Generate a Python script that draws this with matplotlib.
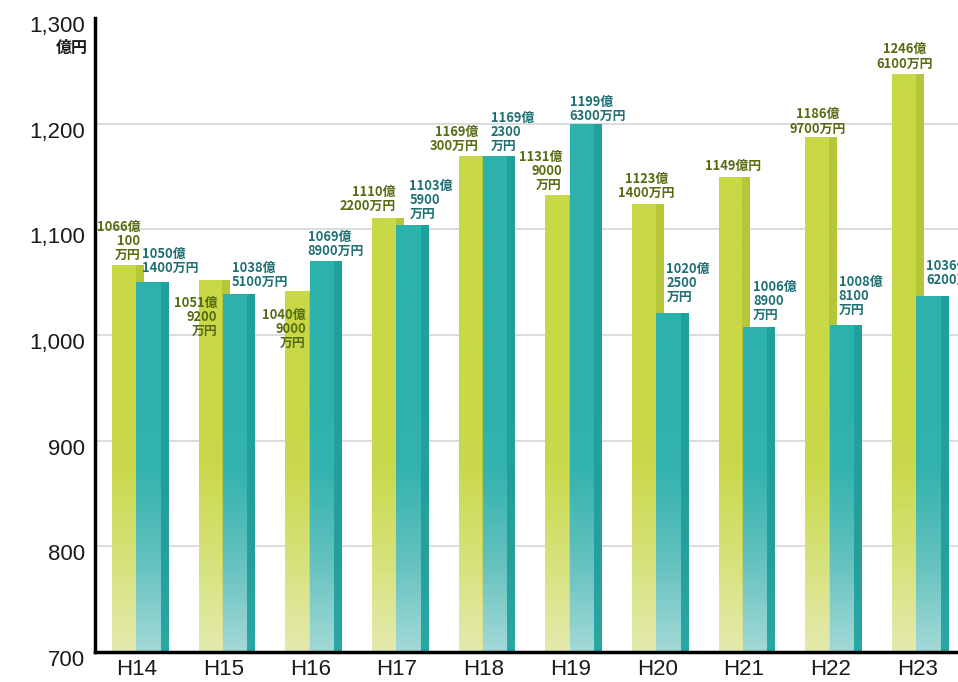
import numpy as np
import matplotlib
matplotlib.use("Agg")
from matplotlib import pyplot as plt
from matplotlib.colors import LinearSegmentedColormap
import matplotlib.transforms as mtransforms

# データ (億円)
years = ["H14", "H15", "H16", "H17", "H18", "H19", "H20", "H21", "H22", "H23"]
green_vals = [1066.01, 1051.92, 1040.90, 1110.22, 1169.03, 1131.90, 1123.14, 1149.00, 1186.97, 1246.61]
teal_vals = [1050.14, 1038.51, 1069.89, 1103.59, 1169.23, 1199.63, 1020.25, 1006.89, 1008.81, 1036.62]
green_labels = ["1066億\n100\n万円", "1051億\n9200\n万円", "1040億\n9000\n万円", "1110億\n2200万円",
                "1169億\n300万円", "1131億\n9000\n万円", "1123億\n1400万円", "1149億円",
                "1186億\n9700万円", "1246億\n6100万円"]
teal_labels = ["1050億\n1400万円", "1038億\n5100万円", "1069億\n8900万円", "1103億\n5900\n万円",
               "1169億\n2300\n万円", "1199億\n6300万円", "1020億\n2500\n万円", "1006億\n8900\n万円",
               "1008億\n8100\n万円", "1036億\n6200万円"]
yticks = [700, 800, 900, 1000, 1100, 1200, 1300]

# ラベルの置き方 (dx, dy ピクセル, ha, va)
green_pos = [(13, 3, "right", "bottom"), (3, -16, "right", "top"), (5, -16, "right", "top"),
             (8, 6, "right", "bottom"), (4, 3, "right", "bottom"), (1, 4, "right", "bottom"),
             (-1, 5, "center", "bottom"), (-1, 5, "center", "bottom"), (-3, 2, "center", "bottom"),
             (-3, 4, "center", "bottom")]
teal_pos = [(-10, 7), (-7, 5), (-18, 3), (-3, 5), (-8, 3), (-16, 1), (-6, 10), (-6, 6), (-7, 9), (-6, 9)]

green_face = LinearSegmentedColormap.from_list("gf", ["#e4eaae", "#d6e27a", "#cad94c", "#c8d846"])
green_side = LinearSegmentedColormap.from_list("gs", ["#dfe6a0", "#c9d35c", "#b9c83c", "#b6c639"])
teal_face = LinearSegmentedColormap.from_list("tf", ["#a3d9d7", "#62c1be", "#33b3ae", "#2cb1ac"])
teal_side = LinearSegmentedColormap.from_list("ts", ["#2aa8a6", "#259f9c", "#22a09d", "#20a09c"])

fig = plt.figure(figsize=(9.58, 6.82), dpi=100, facecolor="white")
ax = fig.add_axes([95 / 958, 30 / 682, 1 - 95 / 958, 634 / 682])

x = np.arange(len(years))
ymin = 700
grad = np.linspace(0, 1, 256).reshape(-1, 1)


def gradient_bar(x0, width, top, face, side):
    # 縦グラデーション (下が薄い)
    g = np.clip(grad * (top - ymin) / 260.0, 0, 1)
    split = x0 + width * 0.76
    ax.imshow(g, extent=[x0, split, ymin, top], origin="lower", aspect="auto",
              cmap=face, vmin=0, vmax=1, zorder=2)
    ax.imshow(g, extent=[split, x0 + width, ymin, top], origin="lower", aspect="auto",
              cmap=side, vmin=0, vmax=1, zorder=2)


for i in x:
    gradient_bar(i - 0.29, 0.36, green_vals[i], green_face, green_side)
    gradient_bar(i - 0.01, 0.37, teal_vals[i], teal_face, teal_side)

# 数値ラベル
font_lbl = ["Noto Sans CJK JP", "DejaVu Sans"]
for i in x:
    dx, dy, ha, va = green_pos[i]
    ax.annotate(green_labels[i], xy=(i - 0.29 + 0.18, green_vals[i]), xytext=(dx, dy),
                textcoords="offset pixels", ha=ha, va=va, fontsize=9.3, fontweight="bold",
                color="#566c12", family=font_lbl, linespacing=1.0, zorder=5)
    dx, dy = teal_pos[i]
    ax.annotate(teal_labels[i], xy=(i - 0.01 + 0.185, teal_vals[i]), xytext=(dx, dy),
                textcoords="offset pixels", ha="left", va="bottom", fontsize=9.3, fontweight="bold",
                color="#1f6f74", family=font_lbl, linespacing=1.0, zorder=5, annotation_clip=False)

# グリッド
for yv in yticks[1:-1]:
    ax.axhline(yv, color="#d9d9d9", lw=1.3, zorder=1)

ax.set_xlim(-0.485, 9.47)
ax.set_ylim(700, 1300)
ax.set_yticks(yticks)
ax.set_yticklabels([f"{v:,}" for v in yticks], fontsize=16, family="Liberation Sans", color="#1a1a1a")
ax.set_xticks(x)
ax.set_xticklabels(years, fontsize=16, family="Liberation Sans", color="#1a1a1a")
ax.tick_params(axis="both", length=0)
ax.tick_params(axis="y", pad=7)
ax.tick_params(axis="x", pad=5)

# 目盛りラベルを少し下げる
offset = mtransforms.ScaledTranslation(0, -6 / 100, fig.dpi_scale_trans)
for lab in ax.get_yticklabels():
    lab.set_transform(lab.get_transform() + offset)

for s in ["top", "right"]:
    ax.spines[s].set_visible(False)
ax.spines["left"].set_linewidth(2.5)
ax.spines["bottom"].set_linewidth(2.5)
ax.spines["left"].set_zorder(6)
ax.spines["bottom"].set_zorder(6)

# 単位
fig.text(88 / 958, 1 - 48 / 682, "億円", ha="right", va="center", fontsize=11.5, fontweight="bold",
         family=["Noto Sans CJK JP", "DejaVu Sans"], color="#1a1a1a")

plt.savefig("out.png", dpi=100, facecolor="white")
